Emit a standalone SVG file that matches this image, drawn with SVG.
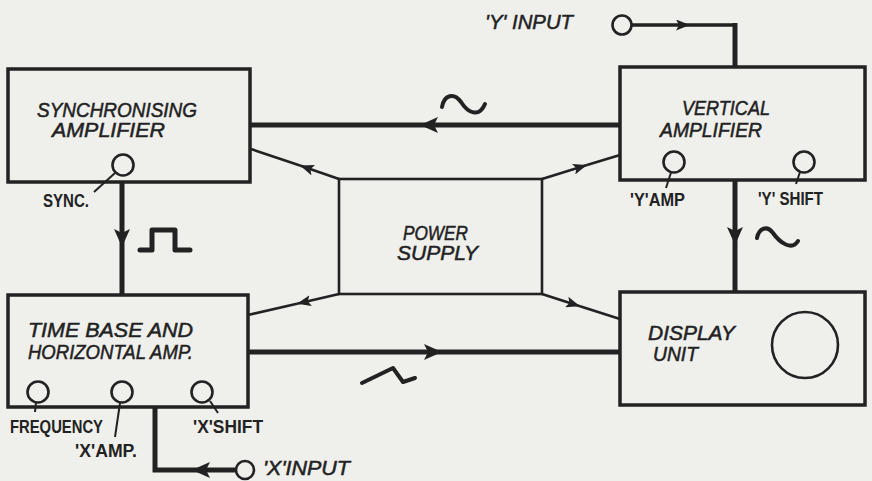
<svg xmlns="http://www.w3.org/2000/svg" width="872" height="481" viewBox="0 0 872 481">
<style>
.bg{fill:#efefec}
.box{fill:none;stroke:#222;stroke-width:3.5}
.ps{fill:none;stroke:#222;stroke-width:2.6}
.knob{fill:none;stroke:#222;stroke-width:2.6}
.lead{fill:none;stroke:#222;stroke-width:2}
.thick{fill:none;stroke:#222;stroke-width:5;stroke-linecap:butt}
.mid{fill:none;stroke:#222;stroke-width:3.5}
.thin{fill:none;stroke:#222;stroke-width:2.6}
.sym{fill:none;stroke:#222;stroke-width:4;stroke-linecap:round;stroke-linejoin:round}
.lbl{font-family:"Liberation Sans",Arial,sans-serif;font-style:italic;font-size:20px;fill:#222;stroke:#222;stroke-width:0.5}
.klbl{font-family:"Liberation Sans",Arial,sans-serif;font-weight:bold;font-size:18.5px;fill:#222}
</style>
<defs>
<marker id="ab" viewBox="0 0 18 16" refX="18" refY="8" markerWidth="18" markerHeight="16" markerUnits="userSpaceOnUse" orient="auto">
<path d="M0,0 L18,8 L0,16 L4,8 Z" fill="#222"/>
</marker>
<marker id="as" viewBox="0 0 14 11" refX="14" refY="5.5" markerWidth="14" markerHeight="11" markerUnits="userSpaceOnUse" orient="auto">
<path d="M0,0 L14,5.5 L0,11 L3,5.5 Z" fill="#222"/>
</marker>
</defs>
<rect class="bg" x="0" y="0" width="872" height="481"/>

<g id="connectors">
<path class="thick" d="M620,125 L420,125" marker-end="url(#ab)"/>
<path class="thick" d="M420,125 L250,125"/>
<path class="thick" d="M122,182 L122,247" marker-end="url(#ab)"/>
<path class="thick" d="M122,247 L122,295"/>
<circle class="knob" cx="622" cy="25" r="9.5"/>
<path class="mid" d="M631.5,25 L690,25" marker-end="url(#as)"/>
<path class="mid" d="M690,25 L735,25"/>
<path class="thick" d="M735,23 L735,67"/>
<path class="thick" d="M735,180 L735,245" marker-end="url(#ab)"/>
<path class="thick" d="M735,245 L735,292"/>
<path class="thick" d="M248,352 L442,352" marker-end="url(#ab)"/>
<path class="thick" d="M442,352 L620,352"/>
<circle class="knob" cx="245" cy="470" r="9"/>
<path class="thick" d="M236,470 L192,470" marker-end="url(#ab)"/>
<path class="thick" d="M192,470 L155,470 L155,407"/>
<path class="thin" d="M339,179 L300,165.6" marker-end="url(#as)"/>
<path class="thin" d="M300,165.6 L251,149"/>
<path class="thin" d="M542,179 L587,165" marker-end="url(#as)"/>
<path class="thin" d="M587,165 L620,155"/>
<path class="thin" d="M339,294 L297,303.7" marker-end="url(#as)"/>
<path class="thin" d="M297,303.7 L248,315"/>
<path class="thin" d="M542,294 L580,306.3" marker-end="url(#as)"/>
<path class="thin" d="M580,306.3 L620,319"/>
<path class="sym" d="M442,107 C444,95 454,92 461,102 C468,113 479,118 485,104"/>
<path class="sym" d="M757,238 C759,228 767,225 773,233 C780,243 792,251 798,241"/>
<path class="sym" d="M140,250 H152 V230 H175 V250 H190" style="stroke-linecap:round;stroke-width:5"/>
<path class="sym" d="M362,383 L393,368 L403,382 L415,378"/>
</g>

<g id="sync-amp">
<rect class="box" x="8" y="69" width="242" height="113"/>
<text class="lbl" x="37" y="117" textLength="160" lengthAdjust="spacingAndGlyphs">SYNCHRONISING</text>
<text class="lbl" x="52" y="137" textLength="113" lengthAdjust="spacingAndGlyphs">AMPLIFIER</text>
<circle class="knob" cx="123" cy="165" r="10.5"/>
<path class="lead" d="M115,173 L94,192"/>
<text class="klbl" x="43" y="207" textLength="46" lengthAdjust="spacingAndGlyphs">SYNC.</text>
</g>

<g id="vertical-amp">
<rect class="box" x="620" y="67" width="245" height="113"/>
<text class="lbl" x="682" y="115" textLength="88" lengthAdjust="spacingAndGlyphs">VERTICAL</text>
<text class="lbl" x="660" y="137" textLength="102" lengthAdjust="spacingAndGlyphs">AMPLIFIER</text>
<circle class="knob" cx="674" cy="162" r="10.5"/>
<path class="lead" d="M671,172.5 L666,188"/>
<text class="klbl" x="630" y="206" textLength="55" lengthAdjust="spacingAndGlyphs">'Y'AMP</text>
<circle class="knob" cx="804" cy="162" r="10.5"/>
<path class="lead" d="M800,172 L796,184"/>
<text class="klbl" x="758" y="205" textLength="65" lengthAdjust="spacingAndGlyphs">'Y' SHIFT</text>
<text class="lbl" x="485" y="29" textLength="88" lengthAdjust="spacingAndGlyphs">'Y' INPUT</text>
</g>

<g id="power-supply">
<rect class="ps" x="339" y="179" width="203" height="115"/>
<text class="lbl" x="403" y="240" textLength="65" lengthAdjust="spacingAndGlyphs">POWER</text>
<text class="lbl" x="397" y="260" textLength="81" lengthAdjust="spacingAndGlyphs">SUPPLY</text>
</g>

<g id="time-base">
<rect class="box" x="8" y="295" width="240" height="112"/>
<text class="lbl" x="28" y="337" textLength="165" lengthAdjust="spacingAndGlyphs">TIME BASE  AND</text>
<text class="lbl" x="28" y="359" textLength="165" lengthAdjust="spacingAndGlyphs">HORIZONTAL AMP.</text>
<circle class="knob" cx="38" cy="392" r="10.5"/>
<path class="lead" d="M36,402 L35,412"/>
<text class="klbl" x="10" y="433" textLength="93" lengthAdjust="spacingAndGlyphs">FREQUENCY</text>
<circle class="knob" cx="122" cy="392" r="10.5"/>
<path class="lead" d="M120,403 L115,437"/>
<text class="klbl" x="75" y="457" textLength="62" lengthAdjust="spacingAndGlyphs">'X'AMP.</text>
<circle class="knob" cx="202" cy="392" r="10.5"/>
<path class="lead" d="M210,401 L218,413"/>
<text class="klbl" x="193" y="433" textLength="70" lengthAdjust="spacingAndGlyphs">'X'SHIFT</text>
<text class="lbl" x="263" y="475" textLength="87" lengthAdjust="spacingAndGlyphs">'X'INPUT</text>
</g>

<g id="display-unit">
<rect class="box" x="620" y="292" width="245" height="113"/>
<text class="lbl" x="648" y="340" textLength="87" lengthAdjust="spacingAndGlyphs">DISPLAY</text>
<text class="lbl" x="653" y="361" textLength="45" lengthAdjust="spacingAndGlyphs">UNIT</text>
<circle class="knob" cx="805" cy="345" r="33"/>
</g>
</svg>
